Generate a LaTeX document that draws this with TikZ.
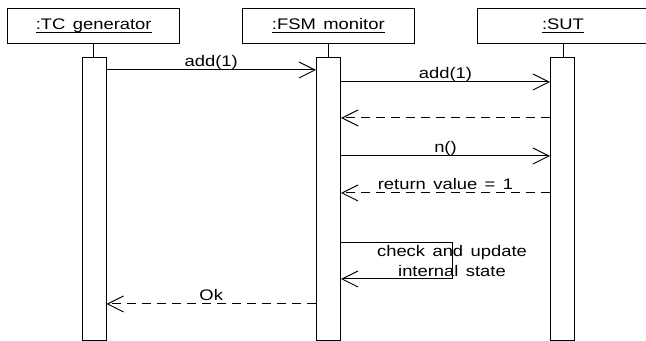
\documentclass[tikz,border=0pt]{standalone}
\usepackage{fontspec}
\setmainfont[FakeStretch=1.2, WordSpace=1.45]{Liberation Sans}
\usetikzlibrary{arrows.meta}

% object name with a UML-style underline that runs through descenders
\newsavebox\ulinebox
\newcommand\objname[1]{\sbox\ulinebox{#1}\rlap{\rule[-2.9pt]{\wd\ulinebox}{0.75pt}}\usebox\ulinebox}

\begin{document}
\begin{tikzpicture}[x=0.75pt,y=-0.75pt,
  every node/.style={font=\fontsize{11.5pt}{15pt}\selectfont, inner sep=0pt},
  objbox/.style={draw, line width=0.75pt, minimum width=129pt, minimum height=26.25pt},
  actbar/.style={draw, line width=0.75pt, fill=white, minimum width=18pt,
                 minimum height=212.25pt, anchor=north},
  lifeline/.style={line width=0.75pt},
  msg/.style={line width=0.75pt, -{Straight Barb[length=12pt,width=12pt]}},
  reply/.style={msg, dash pattern=on 6.75pt off 4.5pt},
  lbl/.style={anchor=base, yshift=2.4pt},
  selflbl/.style={align=center}]

\useasboundingbox (0,0) rectangle (646,341);
\clip (0,0) rectangle (646,341);

% participants
\node[objbox] (tc)  at (93.7,25.7)  {\objname{:TC generator}};
\node[objbox] (fsm) at (328.3,25.7) {\objname{:FSM monitor}};
\node[objbox] (sut) at (563,25.7)   {\objname{:SUT}};

% activation bars
\node[actbar] (tcbar)  at (94,57)    {};
\node[actbar] (fsmbar) at (328.5,57) {};
\node[actbar] (sutbar) at (562.5,57) {};

% short lifeline stubs between heads and bars
\draw[lifeline] (tc.south)  -- (tc.south |- tcbar.north);
\draw[lifeline] (fsm.south) -- (fsm.south |- fsmbar.north);
\draw[lifeline] (sut.south) -- (sut.south |- sutbar.north);

% message rows
\coordinate (r1) at (0,70);
\coordinate (r2) at (0,82);
\coordinate (r3) at (0,118);
\coordinate (r4) at (0,156);
\coordinate (r5) at (0,193);
\coordinate (r6) at (0,243);
\coordinate (r7) at (0,279);
\coordinate (r8) at (0,304);

% messages
\draw[msg]   (tcbar.east |- r1)   -- node[lbl]{add(1)} (fsmbar.west |- r1);
\draw[msg]   (fsmbar.east |- r2)  -- node[lbl]{add(1)} (sutbar.west |- r2);
\draw[reply] (sutbar.west |- r3)  -- (fsmbar.east |- r3);
\draw[msg]   (fsmbar.east |- r4)  -- node[lbl]{n()} (sutbar.west |- r4);
\draw[reply] (sutbar.west |- r5)  -- node[lbl]{return value = 1} (fsmbar.east |- r5);
\draw[msg]   (fsmbar.east |- r6)  -- ++(111,0)
             -- node[selflbl]{check and update\\internal state} ++(0,36)
             -- (fsmbar.east |- r7);
\draw[reply] (fsmbar.west |- r8)  -- node[lbl]{Ok} (tcbar.east |- r8);

\end{tikzpicture}
\end{document}
